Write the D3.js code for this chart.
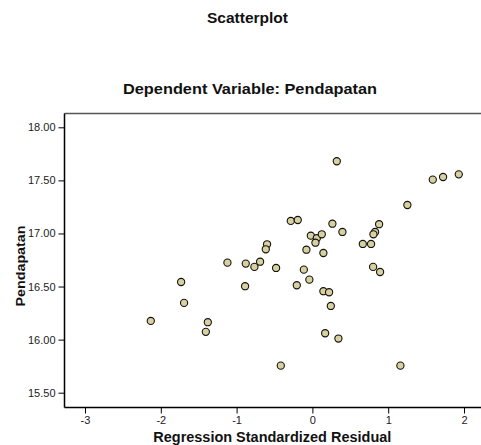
<!DOCTYPE html>
<html>
<head>
<meta charset="utf-8">
<script src="https://d3js.org/d3.v7.min.js"></script>
<style>
body { margin: 0; background: #fff; }
text { font-family: "Liberation Sans", Arial, sans-serif; }
</style>
</head>
<body>
<div class="content"></div>
<script>
var width = 481
var height = 445

// regression standardized residual (x) vs Pendapatan (y)
var residual = [
    -0.285, -0.193, -0.598, -0.615, -1.121, -0.879, -0.765, -0.690, -0.479, -1.732,
    0.322, 1.588, 1.724, 1.931, 1.253, 0.264, 0.396, 0.880, 0.827, 0.805,
    -0.021, 0.058, 0.124, 0.040, 0.665, 0.774, -0.079, 0.145, -0.113, -0.040,
    -0.888, 0.801, 0.893, -0.206, 0.145, 0.220, 0.243, 0.168, 0.343, -0.417,
    1.161, -1.693, -2.132, -1.380, -1.406
]
var pendapatan = [
    17.118, 17.127, 16.898, 16.851, 16.725, 16.716, 16.685, 16.734, 16.675, 16.543,
    17.680, 17.507, 17.532, 17.557, 17.268, 17.092, 17.014, 17.087, 17.014, 16.992,
    16.979, 16.955, 16.992, 16.913, 16.901, 16.901, 16.847, 16.816, 16.659, 16.565,
    16.503, 16.685, 16.637, 16.512, 16.456, 16.446, 16.317, 16.060, 16.010, 15.755,
    15.755, 16.346, 16.176, 16.164, 16.073
]
var xTicks = [-3, -2, -1, 0, 1, 2]
var yTicks = [15.5, 16, 16.5, 17, 17.5, 18]

var points = residual.map(function(d, i) {
    return { x: d, y: pendapatan[i] }
})

var frame = { left: 64.5, top: 113.5, right: 490, bottom: 407.5 }

var x = d3.scaleLinear()
    .domain([-3, 2])
    .range([85, 464])

var y = d3.scaleLinear()
    .domain([15.5, 18])
    .range([392.7, 127.3])

var svg = d3.select('.content').append('svg')
    .attr('width', width)
    .attr('height', height)

// the original is a bit stretched sideways, so titles get a fixed length
function title(txt, cx, cy, size, len) {
    return svg.append('text')
        .attr('x', cx)
        .attr('y', cy)
        .attr('text-anchor', 'middle')
        .attr('textLength', len)
        .attr('lengthAdjust', 'spacingAndGlyphs')
        .style('font-size', size + 'px')
        .style('font-weight', 'bold')
        .attr('fill', '#111')
        .text(txt)
}

title('Scatterplot', 247.5, 23, 14, 81)
title('Dependent Variable: Pendapatan', 250, 94, 14, 254)

// frame
svg.append('line')
    .attr('x1', frame.left).attr('x2', frame.right)
    .attr('y1', frame.top).attr('y2', frame.top)
    .attr('stroke', '#555')
    .attr('stroke-width', 1.5)

var yAxis = d3.axisLeft(y)
    .tickValues(yTicks)
    .tickFormat(d3.format('.2f'))
    .tickSize(6)
    .tickSizeOuter(0)

var gy = svg.append('g')
    .attr('transform', 'translate(' + frame.left + ',0)')
    .call(yAxis)
gy.select('.domain').remove()
gy.append('line')
    .attr('x1', 0).attr('x2', 0)
    .attr('y1', frame.top).attr('y2', frame.bottom)
    .attr('stroke', '#000')
    .attr('stroke-width', 1.5)

var xAxis = d3.axisBottom(x)
    .tickValues(xTicks)
    .tickFormat(function(d) { return String(d) })
    .tickSize(6)
    .tickSizeOuter(0)

var gx = svg.append('g')
    .attr('transform', 'translate(0,' + frame.bottom + ')')
    .call(xAxis)
gx.select('.domain').remove()
gx.append('line')
    .attr('x1', frame.left).attr('x2', frame.right)
    .attr('y1', 0).attr('y2', 0)
    .attr('stroke', '#000')
    .attr('stroke-width', 1.5)

svg.selectAll('.tick text')
    .style('font-family', '"Liberation Sans", Arial, sans-serif')
    .style('font-size', '11px')
    .attr('fill', '#222')

title('Regression Standardized Residual', 272.3, 442, 14, 238)

svg.append('text')
    .attr('transform', 'translate(25,266) rotate(-90)')
    .attr('text-anchor', 'middle')
    .attr('textLength', 81)
    .attr('lengthAdjust', 'spacingAndGlyphs')
    .style('font-size', '13px')
    .style('font-weight', 'bold')
    .attr('fill', '#111')
    .text('Pendapatan')

svg.append('g')
    .selectAll('circle')
    .data(points)
    .enter().append('circle')
    .attr('cx', function(d) { return x(d.x) })
    .attr('cy', function(d) { return y(d.y) })
    .attr('r', 3.6)
    .attr('fill', '#d8d19f')
    .attr('stroke', '#111')
    .attr('stroke-width', 1.1)
</script>
</body>
</html>
